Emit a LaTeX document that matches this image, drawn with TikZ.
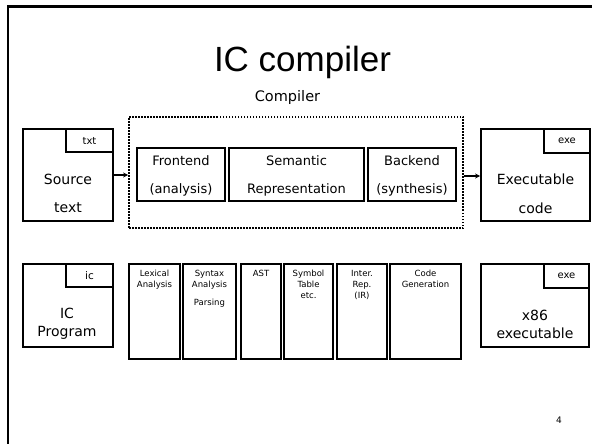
\documentclass[tikz,border=0pt]{standalone}
\usepackage{fontspec}
\setmainfont{DejaVu Sans}
\newfontfamily\arialf{Liberation Sans}
\usetikzlibrary{arrows.meta}
\tikzset{
  bx/.style={draw, line width=1.8pt, inner sep=0pt, minimum width=#1},
  lbl/.style={inner sep=0pt, align=center},
  conn/.style={line width=1.6pt, -{Stealth[length=5pt,width=5pt]}},
}
\newcommand{\fs}[2]{\fontsize{#1}{#2}\selectfont}
\begin{document}
\begin{tikzpicture}[x=1pt,y=-1pt]
\useasboundingbox (0,0) rectangle (592,444);
\clip (0,0) rectangle (592,444);
% outer frame
\coordinate (fb) at (8,460);
\coordinate (fc) at (8,6.5);
\coordinate (fr) at (610,6.5);
\draw[line width=2.5pt] (fb) -- (fc) -- (fr);
% titles
\node[lbl, anchor=base, font=\arialf\fs{35}{40}] (title) at (302.5,72) {IC compiler};
\node[lbl, anchor=base, font=\fs{14.5}{17}] (comp) at (287.5,102) {Compiler};
% top row
\node[draw, line width=1.8pt, dash pattern=on 1.5pt off 1.5pt, inner sep=0pt, minimum width=334pt, minimum height=111pt] (dot) at (296,172.5) {};
\node[bx=90pt, minimum height=92pt] (src) at (68,175) {};
\node[bx=47pt, minimum height=23pt] (srctab) at (89.5,140.5) {};
\node[lbl, font=\fs{10}{12}] (srctabt) at (srctab) {txt};
\node[lbl, font=\fs{14}{28}] (srct) at (68,193) {Source\\text};
\node[bx=88pt, minimum height=53pt] (fe) at (181,174.5) {};
\node[lbl, font=\fs{13}{28}] (fet) at (181,176) {Frontend\\(analysis)};
\node[bx=135pt, minimum height=53pt] (sem) at (296.5,174.5) {};
\node[lbl, font=\fs{13}{28}] (semt) at (296.5,176) {Semantic\\Representation};
\node[bx=88pt, minimum height=53pt] (be) at (412,174.5) {};
\node[lbl, font=\fs{13}{28}] (bet) at (412,176) {Backend\\(synthesis)};
\node[bx=109pt, minimum height=92pt] (exe) at (535.5,175) {};
\node[bx=46pt, minimum height=24pt] (exetab) at (567,141) {};
\node[lbl, font=\fs{10}{12}] (exetabt) at (exetab) {exe};
\node[lbl, font=\fs{14}{29}] (exet) at (535.5,193.5) {Executable\\code};
\draw[conn] (src.east |- 0,175) -- (dot.west |- 0,175);
\draw[conn] (dot.east |- 0,176) -- (exe.west |- 0,176);
% bottom row
\node[bx=90pt, minimum height=83pt] (icp) at (68,305.5) {};
\node[bx=47pt, minimum height=23pt] (icptab) at (89.5,275.5) {};
\node[lbl, font=\fs{10.5}{12}] (icptabt) at (icptab) {ic};
\node[lbl, font=\fs{14}{18}] (icpt) at (67,324) {IC\\Program};
\node[bx=51pt, minimum height=95pt] (lex) at (154.5,311.5) {};
\node[lbl, anchor=north, font=\fs{8.5}{11}] (lext) at (154.5,270) {Lexical\\Analysis};
\node[bx=53pt, minimum height=95pt] (syn) at (209.5,311.5) {};
\node[lbl, anchor=north, font=\fs{8.5}{11}] (synt) at (209.5,270) {Syntax\\Analysis\\[7pt]Parsing};
\node[bx=40pt, minimum height=95pt] (ast) at (261,311.5) {};
\node[lbl, anchor=north, font=\fs{8.5}{11}] (astt) at (261,270) {AST};
\node[bx=49pt, minimum height=95pt] (sym) at (308.5,311.5) {};
\node[lbl, anchor=north, font=\fs{8.5}{11}] (symt) at (308.5,270) {Symbol\\Table\\etc.};
\node[bx=50pt, minimum height=95pt] (ir) at (362,311.5) {};
\node[lbl, anchor=north, font=\fs{8.5}{11}] (irt) at (362,270) {Inter.\\Rep.\\(IR)};
\node[bx=71pt, minimum height=95pt] (cg) at (425.5,311.5) {};
\node[lbl, anchor=north, font=\fs{8.5}{11}] (cgt) at (425.5,270) {Code\\Generation};
\node[bx=108pt, minimum height=83pt] (x86) at (535,305.5) {};
\node[bx=45pt, minimum height=24pt] (x86tab) at (566.5,276) {};
\node[lbl, font=\fs{10}{12}] (x86tabt) at (x86tab) {exe};
\node[lbl, font=\fs{14}{18}] (x86t) at (535,324) {x86\\executable};
% page number
\node[lbl, font=\fs{9}{11}] (pg) at (559,420) {4};
\end{tikzpicture}
\end{document}
